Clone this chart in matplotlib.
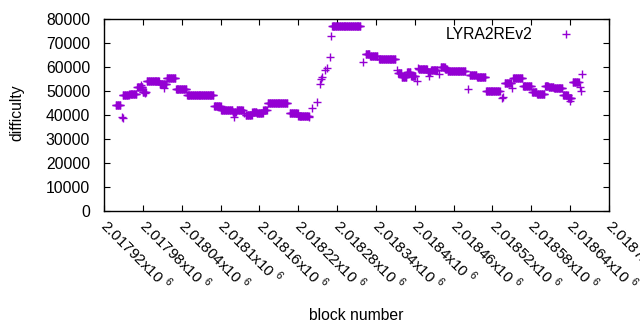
import numpy as np
import matplotlib
matplotlib.use("Agg")
import matplotlib.pyplot as plt
from matplotlib.ticker import MultipleLocator, FuncFormatter

plt.rcParams['font.family'] = ['Liberation Sans', 'DejaVu Sans']
plt.rcParams['mathtext.fontset'] = 'custom'
plt.rcParams['mathtext.rm'] = 'Liberation Sans'

# runs of blocks with the same difficulty: [start, end) and value
run_start = [2017938, 2017949, 2017959, 2017971, 2017980, 2017986, 2018006, 2018017,
             2018031, 2018048, 2018090, 2018101, 2018119, 2018125, 2018139, 2018149,
             2018156, 2018166, 2018173, 2018207, 2018220, 2018272, 2018324, 2018331,
             2018345, 2018374, 2018380, 2018388, 2018394, 2018406, 2018420, 2018425,
             2018440, 2018447, 2018451, 2018485, 2018496, 2018510, 2018539, 2018552,
             2018567, 2018581, 2018589, 2018601, 2018607, 2018615, 2018629, 2018637,
             2018644]
run_end = [2017946, 2017959, 2017971, 2017980, 2017986, 2018006, 2018017, 2018031,
           2018048, 2018090, 2018101, 2018119, 2018125, 2018135, 2018149, 2018156,
           2018166, 2018172, 2018204, 2018220, 2018237, 2018317, 2018331, 2018343,
           2018371, 2018380, 2018388, 2018394, 2018402, 2018420, 2018425, 2018436,
           2018447, 2018451, 2018479, 2018496, 2018510, 2018532, 2018550, 2018567,
           2018581, 2018589, 2018601, 2018607, 2018615, 2018629, 2018637, 2018643,
           2018654]
run_diff = [44000, 48200, 48600, 51800, 49600, 54000, 52900, 55300,
            51000, 48200, 43600, 42000, 41200, 42000, 39900, 41250,
            40700, 42000, 44900, 41000, 39700, 76900, 65300, 64400,
            63200, 57400, 56000, 57800, 56400, 59000, 58000, 58600,
            59800, 59000, 58300, 56800, 55800, 50000, 53200, 55300,
            51950, 49600, 48750, 51950, 51550, 51100, 48200, 47200,
            53600]

# isolated blocks
single_block = [2017948, 2017949, 2017977, 2017984, 2018013, 2018121, 2018136, 2018237,
                2018241, 2018249, 2018254, 2018255, 2018257, 2018262, 2018264, 2018269,
                2018271, 2018320, 2018372, 2018403, 2018405, 2018422, 2018437, 2018482,
                2018534, 2018536, 2018550, 2018640, 2018655, 2018656, 2018658]
single_diff = [39300, 38700, 52500, 49000, 51100, 39300, 41000, 39000,
               42800, 45300, 52900, 55000, 55900, 58750, 59700, 64000,
               72800, 62200, 58750, 54200, 59450, 56400, 57100, 50700,
               46950, 47400, 51100, 45800, 51500, 50000, 57000]

blocks = np.concatenate([np.arange(s, e) for s, e in zip(run_start, run_end)] + [single_block])
diffs = np.concatenate([np.full(e - s, d) for s, e, d in zip(run_start, run_end, run_diff)] + [single_diff])

fig = plt.figure(figsize=(6.4, 3.3), dpi=100)
ax = fig.add_axes([104 / 640, 1 - 211 / 330, 505 / 640, 192 / 330])

ax.plot(blocks, diffs, linestyle='none', marker='+', ms=5.5, mew=1.0,
        color='#9400D3', label='LYRA2REv2')

ax.set_xlim(2017920, 2018700)
ax.set_ylim(0, 80000)
ax.xaxis.set_major_locator(MultipleLocator(60))
ax.yaxis.set_major_locator(MultipleLocator(10000))
ax.xaxis.set_major_formatter(FuncFormatter(lambda v, p: r'%gx10 $^{6}$' % (v / 1e6)))
ax.tick_params(direction='in', length=4, top=True, right=True, labelsize=11.3,
               width=0.8)
ax.tick_params(axis='y', pad=10)
ax.tick_params(axis='x', pad=8, labelsize=11)
for lbl in ax.get_xticklabels():
    lbl.set_rotation(-45)
    lbl.set_ha('left')
    lbl.set_va('center')
    lbl.set_rotation_mode('anchor')
for sp in ax.spines.values():
    sp.set_linewidth(1.0)

ax.set_xlabel('block number', fontsize=11.3)
ax.set_ylabel('difficulty', fontsize=11.3)
ax.xaxis.set_label_coords(0.5, -0.505)
ax.yaxis.set_label_coords(-0.157, 0.51)

ax.legend(loc='upper right', frameon=False, markerfirst=False, fontsize=11.3,
          handlelength=2.7, handletextpad=0.8, borderaxespad=0.0,
          bbox_to_anchor=(0.970, 0.99))

fig.savefig('out.png', dpi=100)
